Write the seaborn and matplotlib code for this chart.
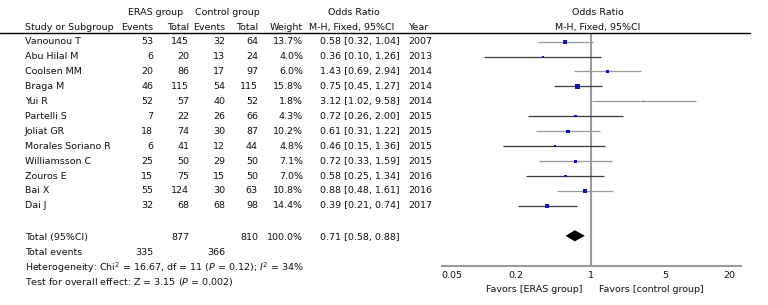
import numpy as np
import pandas as pd
import matplotlib
matplotlib.use("Agg")
import matplotlib.pyplot as plt
import matplotlib.transforms as mtransforms
import seaborn as sns

# data
studies = ["Vanounou T", "Abu Hilal M", "Coolsen MM", "Braga M", "Yui R", "Partelli S",
           "Joliat GR", "Morales Soriano R", "Williamsson C", "Zouros E", "Bai X", "Dai J"]
eras_events = [53, 6, 20, 46, 52, 7, 18, 6, 25, 15, 55, 32]
eras_total = [145, 20, 86, 115, 57, 22, 74, 41, 50, 75, 124, 68]
ctrl_events = [32, 13, 17, 54, 40, 26, 30, 12, 29, 15, 30, 68]
ctrl_total = [64, 24, 97, 115, 52, 66, 87, 44, 50, 50, 63, 98]
weights = [13.7, 4.0, 6.0, 15.8, 1.8, 4.3, 10.2, 4.8, 7.1, 7.0, 10.8, 14.4]
odds = [0.58, 0.36, 1.43, 0.75, 3.12, 0.72, 0.61, 0.46, 0.72, 0.58, 0.88, 0.39]
ci_low = [0.32, 0.10, 0.69, 0.45, 1.02, 0.26, 0.31, 0.15, 0.33, 0.25, 0.48, 0.21]
ci_high = [1.04, 1.26, 2.94, 1.27, 9.58, 2.00, 1.22, 1.36, 1.59, 1.34, 1.61, 0.74]
years = [2007, 2013, 2014, 2014, 2014, 2015, 2015, 2015, 2015, 2016, 2016, 2017]

pooled_or = 0.71
pooled_ci = [0.58, 0.88]
total_eras, total_ctrl = 877, 810
events_eras, events_ctrl = 335, 366
xticks = [0.05, 0.2, 1, 5, 20]

df = pd.DataFrame({"study": studies, "or": odds, "lo": ci_low, "hi": ci_high,
                   "weight": weights, "row": np.arange(len(studies))})

sns.set_theme(style="white")
plt.rcParams["font.family"] = ["DejaVu Sans"]
plt.rcParams["mathtext.fontset"] = "dejavusans"
plt.rcParams["text.color"] = "#111111"
plt.rcParams["xtick.labelcolor"] = "#111111"
fs = 6.8

fig = plt.figure(figsize=(7.68, 3.05), dpi=100)
ax = fig.add_axes([442 / 768, 0.129, 299 / 768, 0.888 - 0.129])

# CI lines, alternating grey/dark like the original
line_cols = ["#9a9a9a" if i % 2 == 0 else "#3a3a3a" for i in range(len(df))]
ax.hlines(df["row"], df["lo"], df["hi"], colors=line_cols, linewidth=0.9)
sns.scatterplot(data=df, x="or", y="row", size="weight", sizes=(1.0, 9.5),
                size_norm=(1.8, 15.8), marker="s", color="#1010d0", linewidth=0,
                legend=False, ax=ax, zorder=3)

# pooled diamond
total_row = len(studies) + 1
ax.fill([pooled_ci[0], pooled_or, pooled_ci[1], pooled_or],
        [total_row, total_row - 0.37, total_row, total_row + 0.37], color="black", lw=0)

ax.axvline(1, color="#9a9a9a", linewidth=1.5, zorder=1)
ax.set_xscale("log")
ax.set_xlim(0.0405, 25.5)
ax.set_ylim(15.0, -0.5)
ax.set_xticks(xticks)
ax.set_xticklabels([str(t) for t in xticks], fontsize=fs)
ax.minorticks_off()
ax.set_yticks([])
ax.set_xlabel("")
ax.set_ylabel("")
for s in ["top", "left", "right"]:
    ax.spines[s].set_visible(False)
ax.spines["bottom"].set_color("#9a9a9a")
ax.spines["bottom"].set_linewidth(1.5)
ax.tick_params(axis="x", direction="in", length=4, width=1, color="#7a7a7a", pad=4)

# text columns: x in figure pixels, y in row units
tr = mtransforms.blended_transform_factory(fig.transFigure, ax.transData)
W = 768.0

def put(x, y, s, ha="left", **kw):
    ax.text(x / W, y, s, ha=ha, va="center", fontsize=fs, transform=tr, clip_on=False, **kw)

put(156, -1.94, "ERAS group", ha="center")
put(227, -1.94, "Control group", ha="center")
put(354, -1.94, "Odds Ratio", ha="center")
put(598, -1.94, "Odds Ratio", ha="center")
put(25, -0.96, "Study or Subgroup")
put(153, -0.96, "Events", ha="right")
put(189, -0.96, "Total", ha="right")
put(225, -0.96, "Events", ha="right")
put(258, -0.96, "Total", ha="right")
put(303, -0.96, "Weight", ha="right")
put(352, -0.96, "M-H, Fixed, 95%CI", ha="center")
put(408, -0.96, "Year")
put(598, -0.96, "M-H, Fixed, 95%CI", ha="center")
ax.plot([0, 750 / W], [-0.56, -0.56], transform=tr, color="black", lw=1, clip_on=False)

for i in range(len(studies)):
    put(25, i, studies[i])
    put(153, i, str(eras_events[i]), ha="right")
    put(189, i, str(eras_total[i]), ha="right")
    put(225, i, str(ctrl_events[i]), ha="right")
    put(258, i, str(ctrl_total[i]), ha="right")
    put(303, i, f"{weights[i]:.1f}%", ha="right")
    put(320, i, f"{odds[i]:.2f} [{ci_low[i]:.2f}, {ci_high[i]:.2f}]")
    put(408, i, str(years[i]))

put(25, 13.09, "Total (95%CI)")
put(189, 13.09, str(total_eras), ha="right")
put(258, 13.09, str(total_ctrl), ha="right")
put(303, 13.09, "100.0%", ha="right")
put(320, 13.09, f"{pooled_or:.2f} [{pooled_ci[0]:.2f}, {pooled_ci[1]:.2f}]")
put(25, 14.1, "Total events")
put(153, 14.1, str(events_eras), ha="right")
put(225, 14.1, str(events_ctrl), ha="right")
put(25, 15.16, r"Heterogeneity: Chi$^2$ = 16.67, df = 11 ($\it{P}$ = 0.12); $\it{I}^2$ = 34%")
put(25, 16.08, r"Test for overall effect: Z = 3.15 ($\it{P}$ = 0.002)")

put(582, 16.6, "Favors [ERAS group]", ha="right")
put(599, 16.6, "Favors [control group]")

fig.savefig("out.png", dpi=100)
